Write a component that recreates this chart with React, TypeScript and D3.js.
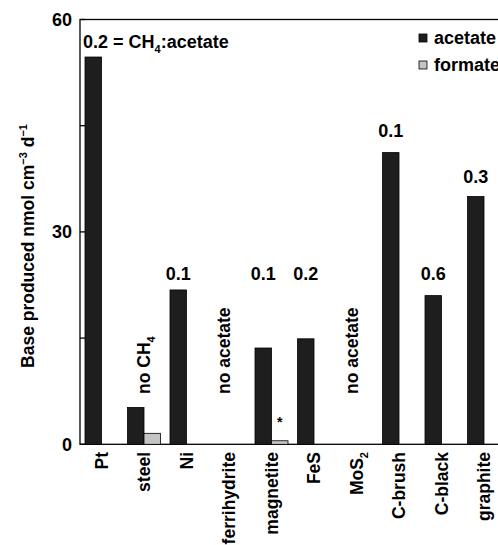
import React from 'react'
import * as d3 from 'd3'

const categories = ['Pt', 'steel', 'Ni', 'ferrihydrite', 'magnetite', 'FeS', 'MoS2', 'C-brush', 'C-black', 'graphite']
const acetate = [54.7, 5.2, 21.8, 0, 13.6, 14.9, 0, 41.2, 21, 35]
const formate = [0, 1.55, 0, 0, 0.5, 0, 0, 0, 0, 0]
// CH4:acetate ratios written above the bars, and the level (in data units) of their baseline
const ratios = ['', '', '0.1', '', '0.1', '0.2', '', '0.1', '0.6', '0.3']
const ratioLevel = [0, 0, 23.2, 0, 23.2, 23.2, 0, 43.4, 23.2, 36.9]
const noteText = ['', 'no CH4', '', 'no acetate', '', '', 'no acetate', '', '', '']
const majorTicks = [0, 30, 60]
const minorTicks = [15, 45]
const series = ['acetate', 'formate']

const W = 498
const H = 545
const font = 'Liberation Sans, Arial, sans-serif'

export default function App() {
  const y = d3.scaleLinear().domain([0, 60]).range([444.3, 19.5])
  const x = d3.scaleBand<string>().domain(categories).range([80.25, 505.25]).paddingInner(0.2235).paddingOuter(0.2235 / 2)
  const xs = d3.scaleBand<string>().domain(series).range([0, x.bandwidth()])
  const colors = { acetate: '#1e1e1e', formate: '#c4c4c4' }
  const center = (c: string) => (x(c) as number) + x.bandwidth() / 2

  const sub = (base: string) => {
    // renders a trailing digit as subscript
    const m = base.match(/^(.*?)(\d)$/)
    if (!m) return base
    return (
      <>
        {m[1]}
        <tspan fontSize={11} dy={5}>{m[2]}</tspan>
      </>
    )
  }

  return (
    <svg width={W} height={H} style={{ position: 'absolute', left: 0, top: 0, background: '#fff' }} fontFamily={font} fontWeight="bold">
      {/* frame */}
      <rect x={80} y={y(60)} width={430} height={y(0) - y(60)} fill="none" stroke="#000" strokeWidth={1.3} />

      {/* bars */}
      {categories.map((c, i) => (
        <g key={c}>
          {acetate[i] > 0 && (
            <rect x={(x(c) as number) + (xs('acetate') as number)} y={y(acetate[i])} width={xs.bandwidth()} height={y(0) - y(acetate[i])} fill={colors.acetate} stroke="#000" strokeWidth={0.8} />
          )}
          {formate[i] > 0 && (
            <rect x={(x(c) as number) + (xs('formate') as number)} y={y(formate[i])} width={xs.bandwidth()} height={y(0) - y(formate[i])} fill={colors.formate} stroke="#000" strokeWidth={0.8} />
          )}
        </g>
      ))}

      {/* y ticks */}
      {majorTicks.concat(minorTicks).map((t) => (
        <line key={'t' + t} x1={80} x2={85} y1={y(t)} y2={y(t)} stroke="#000" strokeWidth={1.3} />
      ))}
      {majorTicks.map((t) => (
        <text key={'l' + t} x={72} y={y(t)} dy="0.36em" textAnchor="end" fontSize={18}>{t}</text>
      ))}

      {/* y title */}
      <text transform={`translate(34,246) rotate(-90)`} textAnchor="middle" fontSize={17.5}>
        Base produced nmol cm<tspan fontSize={11} dy={-7}>−3</tspan>
        <tspan dy={7}> d</tspan>
        <tspan fontSize={11} dy={-7}>−1</tspan>
      </text>

      {/* x labels */}
      {categories.map((c) => (
        <text key={'x' + c} transform={`translate(${center(c)},452) rotate(-90)`} textAnchor="end" dy="0.36em" fontSize={17.5}>
          {c === 'MoS2' ? (
            <>
              MoS<tspan fontSize={11} dy={5}>2</tspan>
            </>
          ) : (
            c
          )}
        </text>
      ))}

      {/* ratio labels */}
      {categories.map((c, i) =>
        ratios[i] ? (
          <text key={'r' + c} x={(x(c) as number) + (xs('acetate') as number) + xs.bandwidth() / 2} y={y(ratioLevel[i])} textAnchor="middle" fontSize={18}>
            {ratios[i]}
          </text>
        ) : null
      )}
      <text x={83} y={48} fontSize={18}>
        0.2 = CH<tspan fontSize={11} dy={5}>4</tspan>
        <tspan dy={-5}>:acetate</tspan>
      </text>

      {/* notes */}
      {categories.map((c, i) =>
        noteText[i] ? (
          <text key={'n' + c} transform={`translate(${center(c) - (i === 1 ? 0 : 5)},394) rotate(-90)`} dy="0.36em" fontSize={17.5}>
            {sub(noteText[i])}
          </text>
        ) : null
      )}
      <text x={(x('magnetite') as number) + (xs('formate') as number) + xs.bandwidth() / 2} y={y(formate[4]) - 14} textAnchor="middle" fontSize={14}>*</text>

      {/* legend */}
      {series.map((s, i) => (
        <g key={s} transform={`translate(419,${34 + i * 27})`}>
          <rect width={8} height={8} fill={colors[s as 'acetate' | 'formate']} stroke="#000" strokeWidth={0.8} />
          <text x={15} y={4} dy="0.36em" fontSize={18}>{s}</text>
        </g>
      ))}
    </svg>
  )
}
